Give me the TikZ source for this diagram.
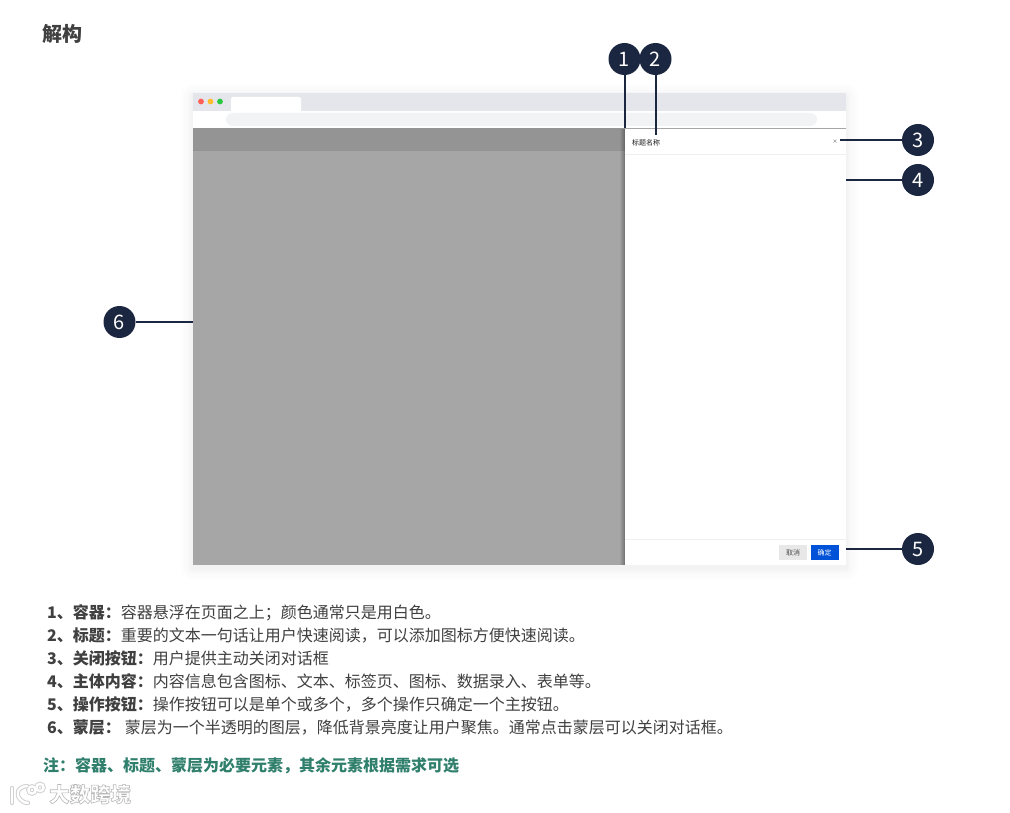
\documentclass[tikz,border=0pt]{standalone}
\usepackage{fontspec}
\setmainfont{Noto Sans CJK SC}
\definecolor{ink}{HTML}{1B2740}
\definecolor{bodytext}{HTML}{404040}
\definecolor{notegreen}{HTML}{2F7F6C}
\definecolor{chrome}{HTML}{E5E6EB}
\definecolor{pill}{HTML}{F2F3F5}
\definecolor{mask}{HTML}{A6A6A6}
\definecolor{maskhead}{HTML}{949494}
\definecolor{okblue}{HTML}{0052D9}
\definecolor{dotred}{HTML}{FF5F57}
\definecolor{dotyellow}{HTML}{FFBD2E}
\definecolor{dotgreen}{HTML}{28C840}
\tikzset{
  badge/.style={circle,fill=ink,text=white,minimum size=32pt,inner sep=0pt,font=\fontsize{20}{20}\selectfont},
  leader/.style={draw=ink,line width=2pt},
  desc/.style={anchor=base west,inner sep=0pt,text=bodytext,font=\fontsize{16}{16}\selectfont},
  smalltxt/.style={inner sep=0pt,font=\fontsize{7}{7}\selectfont},
  x=1pt,y=-1pt
}
\begin{document}
\begin{tikzpicture}
\useasboundingbox (0,0) rectangle (1010,813);
\fill[white] (0,0) rectangle (1010,813);
% outer soft shadow
\foreach \d/\o in {12/0.006,9/0.007,6/0.008,4/0.01,2/0.012}{
  \fill[black,opacity=\o,rounded corners=\d pt] (193-\d,93-\d+3) rectangle (846+\d,565+\d+3);
}
% browser chrome
\fill[chrome] (193,93) rectangle (846,111);
\fill[white] (193,111) rectangle (846,128);
\fill[white,rounded corners=2pt] (231,97) rectangle (301,113);
\fill[pill,rounded corners=6.5pt] (226,113) rectangle (817,126);
\fill[dotred] (201,101.5) circle (2.9);
\fill[dotyellow] (210.5,101.5) circle (2.9);
\fill[dotgreen] (220,101.5) circle (2.9);
% mask
\fill[mask] (193,128) rectangle (625,565);
\fill[maskhead] (193,128) rectangle (625,151);
% dialog shadow
\foreach \d/\o in {5/0.04,4/0.05,3/0.06,2/0.07,1/0.08}{
  \fill[black,opacity=\o] (625-\d,129) rectangle (625,565);
}
% dialog
\fill[white] (625,129) rectangle (846,565);
\draw[black!35,line width=0.8pt] (625,128.5) -- (846,128.5);
\draw[black!6,line width=0.7pt] (625,154) -- (846,154);
\draw[black!6,line width=0.7pt] (625,539) -- (846,539);
\node[smalltxt,anchor=west,text=black!90] (dlgtitle) at (632,142.5) {标题名称};
\node[inner sep=0pt,text=black!75,font=\fontsize{5}{5}\selectfont] (closex) at (835,141.5) {×};
\node[smalltxt,fill=black!9,text=black!70,minimum width=28pt,minimum height=15pt] (cancelbtn) at (793,552.5) {取消};
\node[smalltxt,fill=okblue,text=white,minimum width=28pt,minimum height=15.5pt] (okbtn) at (824.5,552.5) {确定};
% anchors
\coordinate (end1) at (624.5,128);
\coordinate (end2) at (655.5,135);
\coordinate (end3) at (840,140);
\coordinate (end4) at (846,180);
\coordinate (end5) at (846,549);
\coordinate (end6) at (193,322);
% badges
\node[badge] (b1) at (624.5,59) {1};
\node[badge] (b2) at (655.5,59) {2};
\node[badge] (b3) at (918,140) {3};
\node[badge] (b4) at (918,180) {4};
\node[badge] (b5) at (918,549) {5};
\node[badge] (b6) at (119.5,322) {6};
\draw[leader] (b1) -- (end1);
\draw[leader] (b2) -- (end2);
\draw[leader] (b3) -- (end3);
\draw[leader] (b4) -- (end4);
\draw[leader] (b5) -- (end5);
\draw[leader] (b6) -- (end6);
% heading
\node[anchor=base west,inner sep=0pt,text=black!75,font=\fontsize{20}{20}\selectfont\bfseries] (heading) at (42,42) {解构};
% descriptions
\node[desc] (d1) at (47,618) {\textbf{1、容器：}容器悬浮在页面之上；颜色通常只是用白色。};
\node[desc] (d2) at (47,641) {\textbf{2、标题：}重要的文本一句话让用户快速阅读，可以添加图标方便快速阅读。};
\node[desc] (d3) at (47,664) {\textbf{3、关闭按钮：}用户提供主动关闭对话框};
\node[desc] (d4) at (47,687) {\textbf{4、主体内容：}内容信息包含图标、文本、标签页、图标、数据录入、表单等。};
\node[desc] (d5) at (47,710) {\textbf{5、操作按钮：}操作按钮可以是单个或多个，多个操作只确定一个主按钮。};
\node[desc] (d6) at (47,733) {\textbf{6、蒙层：}\hspace{4pt}蒙层为一个半透明的图层，降低背景亮度让用户聚焦。通常点击蒙层可以关闭对话框。};
\node[desc,text=notegreen,font=\fontsize{16}{16}\selectfont\bfseries] (note) at (43,771) {注：容器、标题、蒙层为必要元素，其余元素根据需求可选};
% watermark
\foreach \c/\w in {black!18/4.4,white/2.4}{
  \draw[\c,line width=\w pt,line cap=round,line join=round] (12,788) -- (12,803);
  \draw[\c,line width=\w pt,line cap=round,line join=round] (27,786) .. controls (17,787) and (15,795) .. (21,800) .. controls (23,802) and (25,803) .. (28,803);
  \draw[\c,line width=\w pt] (32,790) circle (3.6);
  \draw[\c,line width=\w pt] (40,787.5) circle (3.6);
}
\node[anchor=base west,inner sep=0pt,text=black!32,font=\fontsize{20.5}{21}\selectfont\bfseries] (wm) at (49,802) {\special{pdf:code q 0.72 G 0.6 w 2 Tr 1 g}大数跨境\special{pdf:code 0 Tr Q}};
\end{tikzpicture}
\end{document}
